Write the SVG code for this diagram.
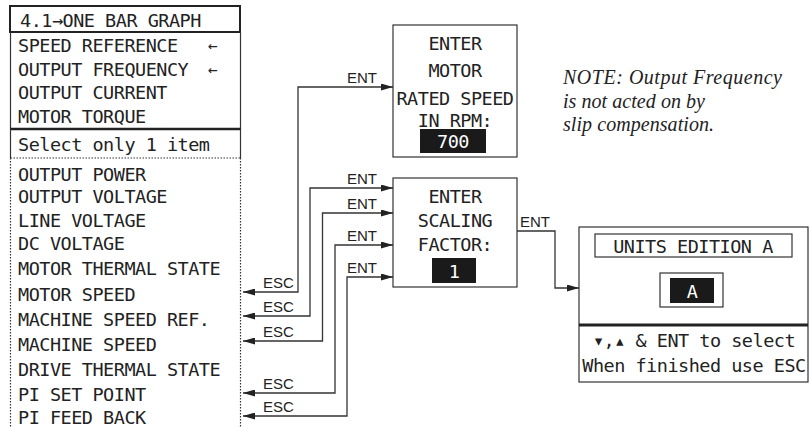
<svg xmlns="http://www.w3.org/2000/svg" width="810" height="428" viewBox="0 0 810 428">
<defs>
<style>
.lcd{font-family:"DejaVu Sans Mono","Liberation Mono",monospace;font-size:18.5px;letter-spacing:-0.5px;fill:#222}
.arr{font-family:"DejaVu Sans Mono","Liberation Mono",monospace;font-size:16px;fill:#222}
.lbl{font-family:"Liberation Sans",Arial,sans-serif;font-size:15px;fill:#222}
.note{font-family:"Liberation Serif","Times New Roman",serif;font-style:italic;font-size:20px;fill:#222}
.box{fill:#fff;stroke:#333;stroke-width:1.2}
.thin{stroke:#333;stroke-width:1.2;fill:none}
.dot{stroke:#333;stroke-width:1.2;fill:none;stroke-dasharray:1.5 1.5}
.conn{stroke:#333;stroke-width:1.3;fill:none;marker-end:url(#ah);marker-start:url(#ah)}
.inv{fill:#1a1a1a}
.invt{fill:#fff}
</style>
<marker id="ah" markerUnits="userSpaceOnUse" markerWidth="13" markerHeight="7" refX="12" refY="3.5" orient="auto-start-reverse">
<path d="M0,0 L12,3.5 L0,7 z" fill="#222"/>
</marker>
<marker id="ahe" markerUnits="userSpaceOnUse" markerWidth="13" markerHeight="7" refX="12" refY="3.5" orient="auto">
<path d="M0,0 L12,3.5 L0,7 z" fill="#222"/>
</marker>
</defs>
<rect width="810" height="428" fill="#fff"/>

<g id="menu">
<rect x="10" y="6" width="230" height="26" fill="#fff" stroke="#222" stroke-width="2"/>
<text class="lcd" x="20" y="27">4.1→ONE BAR GRAPH</text>
<path class="thin" d="M10.5,32 V129 M240.5,32 V129"/>
<text class="lcd" x="18" y="52">SPEED REFERENCE</text>
<text class="arr" x="208" y="51">←</text>
<text class="lcd" x="18" y="76">OUTPUT FREQUENCY</text>
<text class="arr" x="208" y="75">←</text>
<text class="lcd" x="18" y="99">OUTPUT CURRENT</text>
<text class="lcd" x="18" y="123">MOTOR TORQUE</text>
<line x1="10" y1="129" x2="241" y2="129" stroke="#222" stroke-width="2.5"/>
<path class="thin" d="M10.5,129 V158 M240.5,129 V158"/>
<text class="lcd" x="18" y="151">Select only 1 item</text>
<path class="dot" d="M10.5,158 H240.5 M10.5,158 V428 M240.5,158 V428"/>
<text class="lcd" x="18" y="181">OUTPUT POWER</text>
<text class="lcd" x="18" y="203">OUTPUT VOLTAGE</text>
<text class="lcd" x="18" y="227">LINE VOLTAGE</text>
<text class="lcd" x="18" y="250">DC VOLTAGE</text>
<text class="lcd" x="18" y="275">MOTOR THERMAL STATE</text>
<text class="lcd" x="18" y="301">MOTOR SPEED</text>
<text class="lcd" x="18" y="326">MACHINE SPEED REF.</text>
<text class="lcd" x="18" y="351">MACHINE SPEED</text>
<text class="lcd" x="18" y="376">DRIVE THERMAL STATE</text>
<text class="lcd" x="18" y="401">PI SET POINT</text>
<text class="lcd" x="18" y="424">PI FEED BACK</text>
</g>

<g id="motor-speed">
<rect class="box" x="393" y="25" width="124" height="132"/>
<text class="lcd" x="455" y="50" text-anchor="middle">ENTER</text>
<text class="lcd" x="455" y="77" text-anchor="middle">MOTOR</text>
<text class="lcd" x="455" y="105" text-anchor="middle">RATED SPEED</text>
<text class="lcd" x="455" y="127" text-anchor="middle">IN RPM:</text>
<rect class="inv" x="420" y="129" width="66" height="24"/>
<text class="lcd invt" x="453" y="148" text-anchor="middle">700</text>
</g>

<g id="scaling">
<rect class="box" x="393" y="178" width="124" height="109"/>
<text class="lcd" x="455" y="203" text-anchor="middle">ENTER</text>
<text class="lcd" x="455" y="227" text-anchor="middle">SCALING</text>
<text class="lcd" x="455" y="251" text-anchor="middle">FACTOR:</text>
<rect class="inv" x="432" y="258" width="44" height="25"/>
<text class="lcd invt" x="454" y="278" text-anchor="middle">1</text>
</g>

<g id="units">
<rect class="box" x="579" y="227" width="229" height="155"/>
<rect class="box" x="595" y="234" width="197" height="23"/>
<text class="lcd" x="693" y="253" text-anchor="middle">UNITS EDITION A</text>
<rect class="box" x="660" y="273" width="63" height="34"/>
<rect class="inv" x="670" y="278" width="44" height="25"/>
<text class="lcd invt" x="692" y="298" text-anchor="middle">A</text>
<line x1="579" y1="325" x2="808" y2="325" stroke="#222" stroke-width="3"/>
<text class="lcd" x="694" y="347" text-anchor="middle">▾,▴ &amp; ENT to select</text>
<text class="lcd" x="694" y="372" text-anchor="middle">When finished use ESC</text>
</g>

<g id="note">
<text class="note" x="563" y="84" textLength="219">NOTE: Output Frequency</text>
<text class="note" x="563" y="108" textLength="142">is not acted on by</text>
<text class="note" x="563" y="131" textLength="151">slip compensation.</text>
</g>

<g id="connectors">
<path class="conn" d="M243,292 H298 V87 H393"/>
<path class="conn" d="M243,316 H310 V188 H393"/>
<path class="conn" d="M243,341 H322.5 V213 H393"/>
<path class="conn" d="M243,393 H335 V245 H393"/>
<path class="conn" d="M243,416 H347 V277 H393"/>
<path d="M517,231 H555 V288 H579" stroke="#333" stroke-width="1.3" fill="none" marker-end="url(#ahe)"/>
<text class="lbl" x="377" y="83" text-anchor="end">ENT</text>
<text class="lbl" x="377" y="184" text-anchor="end">ENT</text>
<text class="lbl" x="377" y="209" text-anchor="end">ENT</text>
<text class="lbl" x="377" y="241" text-anchor="end">ENT</text>
<text class="lbl" x="377" y="273" text-anchor="end">ENT</text>
<text class="lbl" x="520" y="227">ENT</text>
<text class="lbl" x="263" y="288">ESC</text>
<text class="lbl" x="263" y="312">ESC</text>
<text class="lbl" x="263" y="337">ESC</text>
<text class="lbl" x="263" y="389">ESC</text>
<text class="lbl" x="263" y="412">ESC</text>
</g>
</svg>
